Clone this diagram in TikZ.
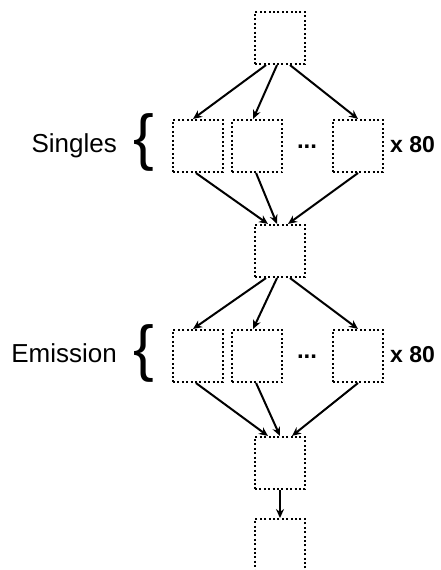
\documentclass[tikz,border=0pt]{standalone}
\usepackage{fontspec}
\setmainfont{Liberation Sans}
\usetikzlibrary{arrows.meta,positioning}

\begin{document}
\begin{tikzpicture}[
    x=1pt, y=-1pt,
    stagebox/.style={
        rectangle,
        draw=black,
        line width=2.1pt,
        dash pattern=on 2pt off 2.4pt,
        minimum width=50pt,
        minimum height=52pt,
        inner sep=0pt
    },
    grouplabel/.style={
        font=\fontsize{26}{30}\selectfont,
        anchor=base east,
        inner sep=0pt
    },
    bracelabel/.style={
        font=\fontsize{62}{64}\selectfont,
        inner sep=0pt
    },
    countlabel/.style={
        font=\fontsize{23}{27}\selectfont\bfseries,
        anchor=base west,
        inner sep=0pt
    },
    dotslabel/.style={
        font=\fontsize{24}{28}\selectfont\bfseries,
        anchor=base,
        inner sep=0pt
    },
    flowarrow/.style={line width=2pt,-{Stealth[length=9pt,width=8pt]}}
]
\useasboundingbox (0,0) rectangle (440,570);

\node (top) [stagebox] at (280,38) {};

% singles
\node (s1) [stagebox] at (198,146) {};
\node (s2) [stagebox, right=7pt of s1] {};
\node (s3) [stagebox] at (358,146) {};
\node (sdots) [dotslabel] at (307,148.5) {...};
\node (scount) [countlabel] at (390,152) {x 80};
\node (sbrace) [bracelabel] at (144,142.5) {\{};
\node (slabel) [grouplabel] at (117,152) {Singles};

\node (mid) [stagebox] at (280,251) {};

% emission
\node (e1) [stagebox] at (198,356) {};
\node (e2) [stagebox, right=7pt of e1] {};
\node (e3) [stagebox] at (358,356) {};
\node (edots) [dotslabel] at (307,358.5) {...};
\node (ecount) [countlabel] at (390,362) {x 80};
\node (ebrace) [bracelabel] at (144,353) {\{};
\node (elabel) [grouplabel] at (117,362) {Emission};

\node (join) [stagebox] at (280,463) {};
\node (out) [stagebox, below=28pt of join] {};

\draw [flowarrow] ([xshift=-14pt]top.south) -- ([xshift=-5pt]s1.north);
\draw [flowarrow] ([xshift=-3pt]top.south) -- ([xshift=-4pt]s2.north);
\draw [flowarrow] ([xshift=10pt]top.south) -- (s3.north);

\draw [flowarrow] ([xshift=-2pt]s1.south) -- ([xshift=-12pt]mid.north);
\draw [flowarrow] ([xshift=-1pt]s2.south) -- ([xshift=-3pt]mid.north);
\draw [flowarrow] (s3.south) -- ([xshift=8pt]mid.north);

\draw [flowarrow] ([xshift=-14pt]mid.south) -- ([xshift=-5pt]e1.north);
\draw [flowarrow] ([xshift=-3pt]mid.south) -- ([xshift=-4pt]e2.north);
\draw [flowarrow] ([xshift=10pt]mid.south) -- (e3.north);

\draw [flowarrow] ([xshift=-2pt]e1.south) -- ([xshift=-12pt]join.north);
\draw [flowarrow] ([xshift=-1pt]e2.south) -- (join.north);
\draw [flowarrow] (e3.south) -- ([xshift=12pt]join.north);

\draw [flowarrow] (join.south) -- (out.north);
\end{tikzpicture}
\end{document}
